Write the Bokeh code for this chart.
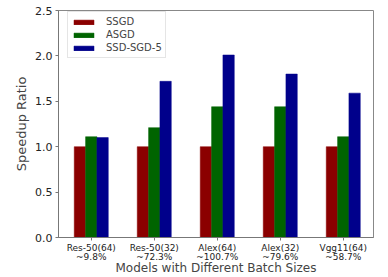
from bokeh.plotting import figure
from bokeh.models import (Range1d, FixedTicker, Legend, LegendItem,
                          ColumnDataSource, NumeralTickFormatter)
from bokeh.transform import dodge
from bokeh.embed import file_html
from bokeh.resources import INLINE

models = ["Res-50(64)", "Res-50(32)", "Alex(64)", "Alex(32)", "Vgg11(64)"]
reductions = ["~9.8%", "~72.3%", "~100.7%", "~79.6%", "~58.7%"]
ssgd = [1.0, 1.0, 1.0, 1.0, 1.0]
asgd = [1.11, 1.21, 1.44, 1.44, 1.11]
ssd_sgd_5 = [1.10, 1.72, 2.01, 1.80, 1.59]
series_names = ["SSGD", "ASGD", "SSD-SGD-5"]
colors = ["#8b0000", "#006400", "#00008b"]
y_ticks = [0.0, 0.5, 1.0, 1.5, 2.0, 2.5]

pos = list(range(len(models)))
src = ColumnDataSource(dict(x=pos, ssgd=ssgd, asgd=asgd, ssd=ssd_sgd_5))

p = figure(width=388, height=277, output_backend="svg", toolbar_location=None,
           x_range=Range1d(-0.52, 4.48), y_range=Range1d(0, 2.5),
           min_border_left=58, min_border_top=10, min_border_right=15,
           min_border_bottom=39)

bw = 0.18
cols = ["ssgd", "asgd", "ssd"]
renderers = []
for i, (c, col) in enumerate(zip(cols, colors)):
    r = p.vbar(x=dodge("x", (i - 1) * bw, range=p.x_range), top=c, width=bw,
               source=src, fill_color=col, line_color=col, line_width=0.5)
    renderers.append(r)

p.xgrid.visible = False
p.ygrid.visible = False
p.outline_line_color = "#888888"
p.outline_line_width = 1

xa = p.xaxis[0]
xa.ticker = FixedTicker(ticks=pos)
xa.major_label_overrides = {i: f"{m}\n{r}" for i, (m, r) in enumerate(zip(models, reductions))}
xa.minor_tick_line_color = None
xa.major_tick_in = 0
xa.major_tick_out = 3
xa.major_label_standoff = 2
xa.major_label_text_font = "DejaVu Sans"
xa.major_label_text_font_size = "9px"
xa.major_label_text_line_height = 0.9
xa.major_label_text_color = "#222222"
xa.axis_label = "Models with Different Batch Sizes"
xa.axis_label_text_font = "DejaVu Sans"
xa.axis_label_text_font_size = "12px"
xa.axis_label_text_font_style = "normal"
xa.axis_label_standoff = -4
xa.axis_line_color = "#777777"
xa.major_tick_line_color = "#777777"

ya = p.yaxis[0]
ya.ticker = FixedTicker(ticks=y_ticks)
ya.formatter = NumeralTickFormatter(format="0.0")
ya.minor_tick_line_color = None
ya.major_tick_in = 0
ya.major_tick_out = 3
ya.major_label_standoff = 3
ya.major_label_text_font = "DejaVu Sans"
ya.major_label_text_font_size = "11px"
ya.major_label_text_color = "#222222"
ya.axis_label = "Speedup Ratio"
ya.axis_label_text_font = "DejaVu Sans"
ya.axis_label_text_font_size = "13px"
ya.axis_label_text_font_style = "normal"
ya.axis_label_standoff = 3
ya.axis_line_color = "#777777"
ya.major_tick_line_color = "#777777"

legend = Legend(items=[LegendItem(label=n, renderers=[r]) for n, r in zip(series_names, renderers)],
                location=(9, 179), orientation="vertical",
                glyph_width=25, glyph_height=6, label_height=13, label_standoff=10,
                spacing=0, padding=3, margin=0,
                label_text_font="DejaVu Sans", label_text_font_size="10px",
                border_line_color="#cccccc", border_line_width=1,
                background_fill_alpha=0.9)
p.add_layout(legend)

open("out.html", "w").write(file_html(p, INLINE))
